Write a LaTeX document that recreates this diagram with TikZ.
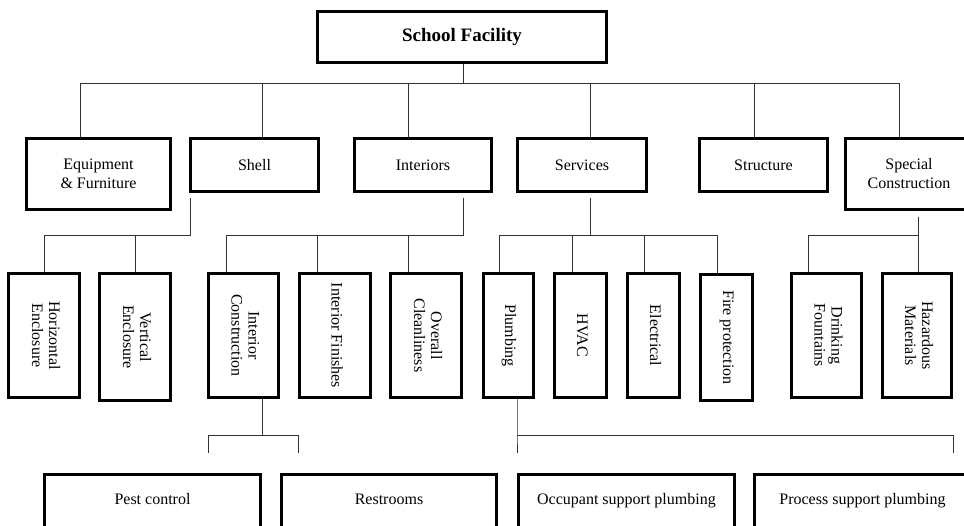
\documentclass[tikz,border=0pt]{standalone}
\usepackage{fontspec}
\setmainfont{Liberation Serif}
\newcommand{\vtext}[1]{\rotatebox{-90}{\fontsize{16}{17}\selectfont\begin{tabular}{@{}c@{}}#1\end{tabular}}}

\begin{document}
\begin{tikzpicture}[x=1pt, y=-1pt,
  box/.style 2 args={draw, line width=2.6pt, inner sep=0pt, minimum width=#1,
    minimum height=#2, align=center, font=\fontsize{16}{19}\selectfont},
  lowbox/.style={draw, line width=2.6pt, inner sep=0pt, minimum width=#1,
    text height=30pt, text depth=50pt, anchor=north, font=\fontsize{16}{19}\selectfont},
  link/.style={draw=black!80, line width=1pt}]
  \useasboundingbox (0,0) rectangle (964,525);
  \clip (0,0) rectangle (964,525);

  % Boxes
  \node[box={289pt}{51pt}, font=\fontsize{19}{22}\selectfont\bfseries] (top) at (462,37) {School Facility};

  \node[box={144pt}{71pt}] (equip) at (98.5,174) {Equipment\\\& Furniture};
  \node[box={128pt}{53pt}] (shell) at (254.5,165) {Shell};
  \node[box={137pt}{53pt}] (inter) at (423,165) {Interiors};
  \node[box={129pt}{53pt}] (serv) at (582,165) {Services};
  \node[box={128pt}{53pt}] (struc) at (763.5,165) {Structure};
  \node[box={127pt}{71pt}] (spec) at (909,174) {Special\\Construction};

  \node[box={71pt}{124pt}] (hor) at (44,335.5) {\vtext{Horizontal\\Enclosure}};
  \node[box={71pt}{127pt}] (ver) at (135,337) {\vtext{Vertical\\Enclosure}};
  \node[box={70pt}{124pt}] (icon) at (243.5,335.5) {\vtext{Interior\\Construction}};
  \node[box={71pt}{124pt}] (ifin) at (335,335.5) {\vtext{Interior Finishes}};
  \node[box={71pt}{124pt}] (ocl) at (426,335.5) {\vtext{Overall\\Cleanliness}};
  \node[box={50pt}{124pt}] (plu) at (508.5,335.5) {\vtext{Plumbing}};
  \node[box={52pt}{124pt}] (hvac) at (580.5,335.5) {\vtext{HVAC}};
  \node[box={52pt}{124pt}] (elec) at (653.5,335.5) {\vtext{Electrical}};
  \node[box={52pt}{126pt}] (fire) at (726.5,337.5) {\vtext{Fire protection}};
  \node[box={70pt}{124pt}] (drink) at (826.5,335.5) {\vtext{Drinking\\Fountains}};
  \node[box={69pt}{124pt}] (haz) at (917,335.5) {\vtext{Hazardous\\Materials}};

  \node[lowbox={216pt}] (pest) at (152.5,473.3) {Pest control};
  \node[lowbox={215pt}] (rest) at (389,473.3) {Restrooms};
  \node[lowbox={216pt}] (occ) at (626.5,473.3) {Occupant support plumbing};
  \node[lowbox={216pt}] (proc) at (862.5,473.3) {Process support plumbing};

  % Bus coordinates
  \coordinate (r0) at (80,83);
  \coordinate (r1) at (262,83);
  \coordinate (r2) at (408,83);
  \coordinate (r3) at (590,83);
  \coordinate (r4) at (754,83);
  \coordinate (r5) at (899,83);

  \coordinate (sa) at (190,235);
  \coordinate (ia) at (463,235);
  \coordinate (ib) at (226,235);
  \coordinate (ic) at (317,235);
  \coordinate (id) at (408,235);
  \coordinate (va) at (590,235);
  \coordinate (vb) at (499,235);
  \coordinate (vc) at (572,235);
  \coordinate (vd) at (644,235);
  \coordinate (ve) at (717,235);
  \coordinate (pa) at (918,235);
  \coordinate (pb) at (808,235);

  \coordinate (ca) at (262,435);
  \coordinate (cb) at (208,453);
  \coordinate (cc) at (298,453);
  \coordinate (ua) at (517,435);
  \coordinate (ub) at (517,453);
  \coordinate (uc) at (953,453);

  % Level 1 to level 2
  \draw[link] (top.south -| ia) -- (r0 -| ia);
  \draw[link] (r0) -- (r5);
  \foreach \b/\n in {r0/equip, r1/shell, r2/inter, r3/serv, r4/struc, r5/spec}
    \draw[link] (\b) -- (\b |- \n.north);

  % Shell
  \draw[link, shorten <=5pt] (shell.south -| sa) -- (sa) -- (sa -| hor.north) -- (hor.north);
  \draw[link] (sa -| ver.north) -- (ver.north);

  % Interiors
  \draw[link, shorten <=5pt] (inter.south -| ia) -- (ia) -- (ib) -- (ib |- icon.north);
  \draw[link] (ic) -- (ic |- ifin.north);
  \draw[link] (id) -- (id |- ocl.north);

  % Services
  \draw[link, shorten <=5pt] (serv.south -| va) -- (va);
  \draw[link] (vb) -- (ve);
  \foreach \b/\n in {vb/plu, vc/hvac, vd/elec, ve/fire}
    \draw[link] (\b) -- (\b |- \n.north);

  % Special construction
  \draw[link, shorten <=6pt] (spec.south -| pa) -- (pa) -- (pb) -- (pb |- drink.north);
  \draw[link] (pa) -- (pa |- haz.north);

  % Level 3 to level 4
  \draw[link] (icon.south -| ca) -- (ca);
  \draw[link] (cb) -- (cb |- ca) -- (cc |- ca) -- (cc);
  \draw[link] (plu.south -| ua) -- (ua) -- (ub);
  \draw[link] (ua) -- (uc |- ua) -- (uc);
\end{tikzpicture}
\end{document}
